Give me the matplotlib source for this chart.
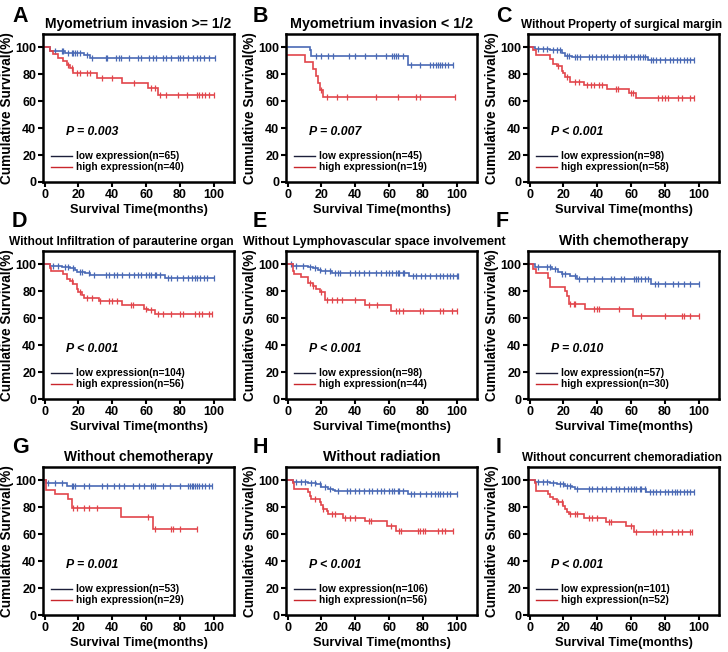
import numpy as np
import matplotlib
matplotlib.use("Agg")
import matplotlib.pyplot as plt
from matplotlib.lines import Line2D

plt.rcParams['font.family'] = ['Liberation Sans', 'DejaVu Sans']

# ---------------- data ----------------
panel_letters = ["A", "B", "C", "D", "E", "F", "G", "H", "I"]
panel_titles = ["Myometrium invasion >= 1/2", "Myometrium invasion < 1/2",
                "Without Property of surgical margin",
                "Without Infiltration of parauterine organ",
                "Without Lymphovascular space involvement", "With chemotherapy",
                "Without chemotherapy", "Without radiation",
                "Without concurrent chemoradiation"]
p_values = ["P = 0.003", "P = 0.007", "P < 0.001", "P < 0.001", "P < 0.001",
            "P = 0.010", "P = 0.001", "P < 0.001", "P < 0.001"]
n_low = [65, 45, 98, 104, 98, 57, 53, 106, 101]
n_high = [40, 19, 58, 56, 44, 30, 29, 56, 52]
x_ticks = [0, 20, 40, 60, 80, 100]
y_ticks = [0, 20, 40, 60, 80, 100]

A_low_t = [0, 3, 12, 23, 27]
A_low_s = [100, 97.5, 96, 94.5, 92.2]
A_low_c = [6, 10, 11, 14, 16, 17, 18, 19, 21, 25, 28, 36, 37, 42, 44, 45, 50, 55, 57, 62, 64, 66, 70, 72, 75, 79, 80, 82, 85, 88, 90, 92, 94, 97, 101]
A_high_t = [0, 3, 5, 8, 11, 13, 15, 17, 31, 46, 61, 67]
A_high_s = [100, 97.5, 94.9, 92.3, 89.7, 87.2, 84.6, 81.1, 77.4, 73.6, 69.5, 64.6]
A_high_c = [14, 16, 19, 21, 25, 27, 34, 40, 53, 63, 65, 68, 72, 79, 84, 90, 91, 93, 95, 97, 100]

B_low_t = [0, 13, 14, 71]
B_low_s = [100, 97.8, 93.3, 87.2]
B_low_c = [17, 20, 24, 27, 36, 40, 46, 52, 58, 62, 63, 64, 65, 68, 73, 78, 84, 86, 88, 89, 90, 91, 93, 95, 98]
B_high_t = [0, 10, 15, 17, 18, 19, 21]
B_high_s = [94.7, 89.5, 84.2, 78.9, 73.7, 68.4, 63.2]
B_high_c = [19.5, 23, 29, 35, 52, 65, 76, 78, 99]

C_low_t = [0, 3, 12, 19, 21, 25, 70]
C_low_s = [100, 99, 97.9, 96, 94, 92.8, 90.4]
C_low_c = [5, 8, 10, 14, 16, 18, 22, 23, 27, 28, 30, 35, 37, 39, 42, 44, 46, 49, 51, 53, 56, 57, 60, 62, 64, 65, 67, 68, 72, 73, 75, 77, 80, 83, 85, 87, 89, 91, 93, 95, 97]
C_high_t = [0, 2, 4, 12, 14, 16, 19, 20, 21, 24, 32, 46, 59, 63]
C_high_s = [100, 98.3, 94.7, 91.2, 87.6, 86, 82.5, 80.7, 78, 74.5, 71.9, 69, 65.8, 62.3]
C_high_c = [17, 22, 27, 29, 34, 36, 38, 41, 43, 51, 52, 60, 61, 76, 78, 80, 82, 88, 90, 95, 97]

D_low_t = [0, 3, 10, 15, 18, 19, 24, 27, 71]
D_low_s = [100, 99, 98, 97, 95.9, 94.7, 93.5, 92.2, 89.6]
D_low_c = [5, 8, 12, 14, 17, 21, 22, 26, 29, 36, 38, 41, 43, 46, 50, 53, 55, 57, 60, 62, 63, 65, 66, 68, 73, 75, 78, 82, 85, 87, 89, 90, 92, 94, 96, 100]
D_high_t = [0, 3, 4, 11, 13, 15, 17, 19, 20, 22, 23, 32, 46, 59, 61, 65]
D_high_s = [100, 97.5, 95, 92.8, 89.3, 87.5, 85.7, 82.1, 79.6, 77.4, 75.3, 72.9, 70.1, 67.2, 66, 62.9]
D_high_c = [16, 21, 25, 28, 33, 38, 40, 43, 51, 52, 60, 63, 67, 70, 75, 80, 82, 89, 91, 93, 97, 99]

E_low_t = [0, 3, 12, 15, 18, 20, 26, 72]
E_low_s = [100, 99, 98, 97, 96, 94.9, 94, 91.5]
E_low_c = [2, 5, 9, 13, 16, 19, 22, 25, 28, 30, 31, 37, 40, 42, 45, 48, 52, 55, 58, 60, 62, 64, 65, 66, 68, 69, 74, 76, 79, 81, 84, 88, 90, 92, 94, 96, 98, 100, 101]
E_high_t = [0, 3, 4, 8, 12, 15, 17, 19, 22, 46, 61]
E_high_s = [100, 95.5, 93.2, 90.9, 86.4, 84.1, 81.8, 79.5, 73.4, 69.6, 65.1]
E_high_c = [13, 15, 20, 23, 26, 29, 32, 40, 48, 53, 64, 66, 68, 78, 80, 90, 92, 97, 100]

F_low_t = [0, 3, 13, 17, 19, 24, 28, 72]
F_low_s = [100, 98.2, 96.5, 94.7, 93, 91.1, 89.1, 85.2]
F_low_c = [5, 10, 12, 15, 19, 21, 27, 29, 34, 38, 43, 48, 50, 54, 56, 62, 63, 64, 66, 68, 70, 74, 76, 80, 85, 88, 91, 95, 100]
F_high_t = [0, 2, 4, 11, 12, 21, 22, 23, 33, 61]
F_high_s = [100, 96.7, 93.3, 90, 83.3, 80, 76.5, 70.8, 67, 61.7]
F_high_c = [24, 26, 27, 38, 40, 41, 53, 66, 80, 90, 91, 95, 100]

G_low_t = [0, 1, 13]
G_low_s = [100, 98.1, 96.2]
G_low_c = [2, 6, 10, 16, 17, 18, 23, 26, 34, 37, 41, 44, 47, 52, 56, 59, 63, 64, 65, 70, 74, 80, 85, 86, 87, 88, 89, 90, 91, 93, 95, 97, 99]
G_high_t = [0, 0.5, 1, 6, 14, 16, 45, 64]
G_high_s = [100, 96.6, 93.1, 89.7, 86.2, 79.3, 72.7, 63.6]
G_high_c = [17, 19, 23, 26, 31, 61, 65, 75, 76, 80, 90]

H_low_t = [0, 3, 12, 17, 20, 24, 27, 28, 71]
H_low_s = [100, 99, 98, 97, 95, 94, 93, 92, 89.6]
H_low_c = [5, 8, 10, 14, 16, 19, 22, 25, 30, 35, 37, 40, 42, 45, 48, 50, 53, 55, 57, 60, 62, 63, 65, 66, 68, 73, 75, 78, 82, 85, 87, 89, 90, 92, 94, 96, 100]
H_high_t = [0, 3, 4, 12, 13, 14, 19, 20, 21, 23, 24, 33, 46, 59, 64]
H_high_s = [100, 98.2, 93.5, 91.2, 88.6, 86, 84, 81.8, 79.1, 77, 75, 72.4, 69.5, 66.1, 62.5]
H_high_c = [16, 21, 26, 28, 34, 37, 40, 48, 49, 61, 66, 67, 77, 78, 80, 81, 89, 91, 93, 98]

I_low_t = [0, 3, 12, 16, 21, 25, 27, 69]
I_low_s = [100, 99, 98, 97, 96, 95, 94, 91.5]
I_low_c = [5, 8, 10, 14, 18, 20, 22, 24, 28, 35, 37, 40, 43, 45, 48, 51, 53, 56, 58, 60, 62, 63, 65, 66, 68, 71, 73, 75, 77, 80, 82, 84, 86, 87, 89, 91, 93, 95, 97]
I_high_t = [0, 3, 4, 11, 12, 14, 16, 20, 21, 22, 23, 32, 45, 57, 62]
I_high_s = [100, 98, 92.3, 90, 87.9, 86.1, 84, 81, 78.6, 76.5, 74.7, 72, 69, 66.4, 62]
I_high_c = [17, 19, 24, 27, 28, 35, 37, 40, 47, 48, 60, 63, 73, 75, 78, 84, 88, 90, 95, 96]

low_series = [(A_low_t, A_low_s, A_low_c), (B_low_t, B_low_s, B_low_c), (C_low_t, C_low_s, C_low_c),
              (D_low_t, D_low_s, D_low_c), (E_low_t, E_low_s, E_low_c), (F_low_t, F_low_s, F_low_c),
              (G_low_t, G_low_s, G_low_c), (H_low_t, H_low_s, H_low_c), (I_low_t, I_low_s, I_low_c)]
high_series = [(A_high_t, A_high_s, A_high_c), (B_high_t, B_high_s, B_high_c), (C_high_t, C_high_s, C_high_c),
               (D_high_t, D_high_s, D_high_c), (E_high_t, E_high_s, E_high_c), (F_high_t, F_high_s, F_high_c),
               (G_high_t, G_high_s, G_high_c), (H_high_t, H_high_s, H_high_c), (I_high_t, I_high_s, I_high_c)]

# ---------------- style ----------------
title_sizes = [10, 10.3, 8.5, 8.6, 8.9, 10.1, 9.9, 10.3, 8.5]
title_x = [0.5, 0.5, 0.49, 0.41, 0.46, 0.5, 0.5, 0.5, 0.49]
BLUE = "#4a6ab5"
RED = "#e2454b"
LEG_LOW = "#1c1f3a"
LEG_HIGH = "#c9262c"

W, H = 728, 652
fig = plt.figure(figsize=(W / 100, H / 100), dpi=100)

col_left = [43, 286, 528]
row_top = [34, 251, 467]
ax_w, ax_h = 191, 148
letter_x = [12, 253, 496]
letter_y = [6, 211, 437]


def draw_km(ax, t, s, c, color):
    t = np.asarray(t, float)
    s = np.asarray(s, float)
    c = np.asarray(c, float)
    end = max(c.max(), t.max())
    tx = np.append(t, end)
    sx = np.append(s, s[-1])
    ax.step(tx, sx, where="post", color=color, lw=1.2, solid_joinstyle="miter")
    idx = np.searchsorted(t, c, side="right") - 1
    ax.plot(c, s[idx], ls="none", marker="|", ms=4, mew=0.9, color=color)


for k in range(9):
    r, col = divmod(k, 3)
    l = col_left[col]
    top = row_top[r]
    ax = fig.add_axes([l / W, 1 - (top + ax_h) / H, ax_w / W, ax_h / H])
    draw_km(ax, *low_series[k], BLUE)
    draw_km(ax, *high_series[k], RED)
    ax.set_xlim(-1, 112)
    ax.set_ylim(0, 110)
    ax.set_xticks(x_ticks)
    ax.set_yticks(y_ticks)
    for sp in ax.spines.values():
        sp.set_linewidth(1.8)
    ax.tick_params(direction="out", length=3.5, width=1.5, labelsize=9, pad=1.5)
    for lab in ax.get_xticklabels() + ax.get_yticklabels():
        lab.set_fontweight("bold")
    ax.set_xlabel("Survival Time(months)", fontsize=9.3, fontweight="bold", labelpad=2)
    ax.set_ylabel("Cumulative Survival(%)", fontsize=9.8, fontweight="bold", labelpad=1)
    ax.set_title(panel_titles[k], fontsize=title_sizes[k], fontweight="bold", pad=4,
                 x=title_x[k], ha="center")
    ax.text(12.5, 37, p_values[k], fontsize=8.8, fontweight="bold", style="italic",
            va="center", ha="left")
    handles = [Line2D([], [], color=LEG_LOW, lw=1.0), Line2D([], [], color=LEG_HIGH, lw=1.0)]
    labels = ["low expression(n=%d)" % n_low[k], "high expression(n=%d)" % n_high[k]]
    ax.legend(handles, labels, loc="lower left", bbox_to_anchor=(0.04, 0.065),
              frameon=False, prop={"weight": "bold", "size": 7.3}, handlelength=2.1,
              handletextpad=0.45, labelspacing=0.1, borderaxespad=0, borderpad=0)
    fig.text(letter_x[col] / W, 1 - letter_y[r] / H, panel_letters[k], fontsize=15.5,
             fontweight="bold", va="top", ha="left")

fig.savefig("out.png", dpi=100)
